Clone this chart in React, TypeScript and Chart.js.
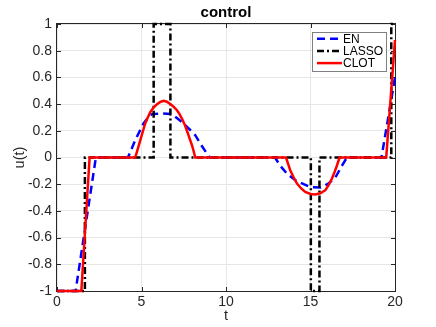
import React, { useEffect, useRef } from "react";
import { Chart, registerables } from "chart.js";

Chart.register(...registerables);

const FONT = '"Liberation Sans", Arial, Helvetica, sans-serif';

const enT = [0, 1.1, 2.3, 4.2, 4.63, 5.12, 5.4, 5.62, 6.2, 6.8, 7.15, 7.49, 7.85, 8.18, 8.5, 8.87, 9.05, 12.9, 13.2, 13.6, 14.1, 14.6, 15.0, 15.6, 16.0, 16.45, 16.8, 17.15, 19.2, 20];
const enU = [-1, -1, 0, 0, 0.13, 0.255, 0.3, 0.325, 0.33, 0.325, 0.29, 0.255, 0.21, 0.167, 0.1, 0.03, 0, 0, -0.06, -0.12, -0.17, -0.2, -0.222, -0.225, -0.2, -0.155, -0.075, 0, 0, 0.6];

const lassoT = [0, 1.65, 1.65, 5.72, 5.72, 6.71, 6.71, 15.02, 15.02, 15.53, 15.53, 19.78, 19.78, 20];
const lassoU = [-1, -1, 0, 0, 1, 1, 0, 0, -1, -1, 0, 0, 1, 1];

const clotT = [0, 1.44, 1.93, 4.63, 4.78, 4.93, 5.08, 5.22, 5.37, 5.52, 5.72, 5.92, 6.11, 6.31, 6.5, 6.7, 6.9, 7.1, 7.25, 7.4, 7.55, 7.69, 7.84, 7.99, 8.09, 8.18,
  13.55, 13.68, 13.8, 14.0, 14.2, 14.45, 14.69, 15.0, 15.28, 15.58, 15.88, 16.08, 16.27, 16.42, 16.57, 16.72, 19.48, 20];
const clotU = [-1, -1, 0, 0, 0.065, 0.13, 0.195, 0.255, 0.3, 0.34, 0.375, 0.4, 0.416, 0.424, 0.418, 0.4, 0.38, 0.354, 0.325, 0.29, 0.248, 0.2, 0.145, 0.09, 0.045, 0,
  0, -0.05, -0.095, -0.148, -0.195, -0.232, -0.258, -0.273, -0.277, -0.268, -0.245, -0.205, -0.157, -0.11, -0.058, 0, 0, 0.88];

const seriesNames = ["EN", "LASSO", "CLOT"];
const xTicks = [0, 5, 10, 15, 20];
const titleText = "control";
const xLabel = "t";
const yLabel = "u(t)";

const toPts = (t: number[], u: number[]) => t.map((v, i) => ({ x: v, y: u[i] }));

const frame = {
  id: "matlabFrame",
  beforeDatasetsDraw(chart: any) {
    const { ctx, chartArea: a, scales } = chart;
    const x = scales.x, y = scales.y;
    ctx.save();
    ctx.strokeStyle = "#262626";
    ctx.lineWidth = 1;
    ctx.beginPath();
    x.ticks.forEach((t: any) => {
      const p = Math.round(x.getPixelForValue(t.value)) + 0.5;
      ctx.moveTo(p, a.bottom); ctx.lineTo(p, a.bottom - 4);
      ctx.moveTo(p, a.top); ctx.lineTo(p, a.top + 4);
    });
    y.ticks.forEach((t: any) => {
      const p = Math.round(y.getPixelForValue(t.value)) + 0.5;
      ctx.moveTo(a.left, p); ctx.lineTo(a.left + 4, p);
      ctx.moveTo(a.right, p); ctx.lineTo(a.right - 4, p);
    });
    ctx.stroke();
    ctx.strokeRect(a.left - 0.5, a.top - 0.5, a.right - a.left + 1, a.bottom - a.top + 1);
    ctx.restore();
  },
  afterDraw(chart: any) {
    const { ctx, chartArea: a } = chart;
    ctx.save();
    ctx.fillStyle = "#000";
    ctx.font = `bold 15px ${FONT}`;
    ctx.textAlign = "center";
    ctx.textBaseline = "middle";
    ctx.fillText(titleText, (a.left + a.right) / 2, 13);
    ctx.fillStyle = "#262626";
    ctx.font = `14.5px ${FONT}`;
    ctx.fillText(xLabel, (a.left + a.right) / 2, 316);
    ctx.save();
    ctx.translate(20, (a.top + a.bottom) / 2);
    ctx.rotate(-Math.PI / 2);
    ctx.fillText(yLabel, 0, 0);
    ctx.restore();
    const lx = 312.5, ly = 32.5, lw = 74, lh = 39;
    ctx.fillStyle = "#fff";
    ctx.fillRect(lx, ly, lw, lh);
    ctx.strokeStyle = "#808080";
    ctx.lineWidth = 1;
    ctx.strokeRect(lx, ly, lw, lh);
    chart.data.datasets.forEach((ds: any, i: number) => {
      const yy = 38.7 + i * 12.2;
      ctx.save();
      ctx.strokeStyle = ds.borderColor;
      ctx.lineWidth = ds.borderWidth;
      ctx.setLineDash(ds.borderDash || []);
      ctx.beginPath();
      ctx.moveTo(317, yy);
      ctx.lineTo(342, yy);
      ctx.stroke();
      ctx.restore();
      ctx.fillStyle = "#000";
      ctx.font = `12px ${FONT}`;
      ctx.textAlign = "left";
      ctx.textBaseline = "middle";
      ctx.fillText(ds.label, 343, yy + 0.5);
    });
    ctx.restore();
  },
};

export default function App() {
  const ref = useRef<HTMLCanvasElement>(null);
  useEffect(() => {
    const chart = new Chart(ref.current as HTMLCanvasElement, {
      type: "line",
      data: {
        datasets: [
          { label: seriesNames[0], data: toPts(enT, enU), borderColor: "#0000ff", borderWidth: 2.5, borderDash: [8, 5], pointRadius: 0, tension: 0, order: 3, clip: 4 } as any,
          { label: seriesNames[1], data: toPts(lassoT, lassoU), borderColor: "#000000", borderWidth: 2.5, borderDash: [7, 3, 2, 3], pointRadius: 0, tension: 0, order: 2, clip: 4 } as any,
          { label: seriesNames[2], data: toPts(clotT, clotU), borderColor: "#ff0000", borderWidth: 2.5, pointRadius: 0, tension: 0, order: 1, clip: 4 } as any,
        ],
      },
      options: {
        animation: false,
        responsive: false,
        events: [],
        layout: { padding: { left: 0, right: 41, top: 24, bottom: 0 } },
        plugins: { legend: { display: false }, tooltip: { enabled: false }, title: { display: false } },
        scales: {
          x: {
            type: "linear",
            min: 0,
            max: 20,
            afterFit: (s: any) => { s.height = 36; },
            afterBuildTicks: (s: any) => { s.ticks = xTicks.map((v) => ({ value: v })); },
            grid: { color: "#e6e6e6", drawTicks: false, lineWidth: 1 },
            border: { display: false },
            ticks: { color: "#262626", padding: 3, font: { family: FONT, size: 14 }, maxRotation: 0, callback: (v: any) => String(v) },
          },
          y: {
            type: "linear",
            min: -1,
            max: 1,
            afterFit: (s: any) => { s.width = 57; },
            grid: { color: "#e6e6e6", drawTicks: false, lineWidth: 1 },
            border: { display: false },
            ticks: { color: "#262626", padding: 5, stepSize: 0.2, font: { family: FONT, size: 14 }, callback: (v: any) => String(Math.round(v * 10) / 10) },
          },
        },
      },
      plugins: [frame],
    });
    return () => chart.destroy();
  }, []);
  return (
    <div style={{ position: "fixed", left: 0, top: 0, width: 436, height: 327, background: "#fff" }}>
      <canvas ref={ref} width={436} height={327} style={{ display: "block" }} />
    </div>
  );
}
